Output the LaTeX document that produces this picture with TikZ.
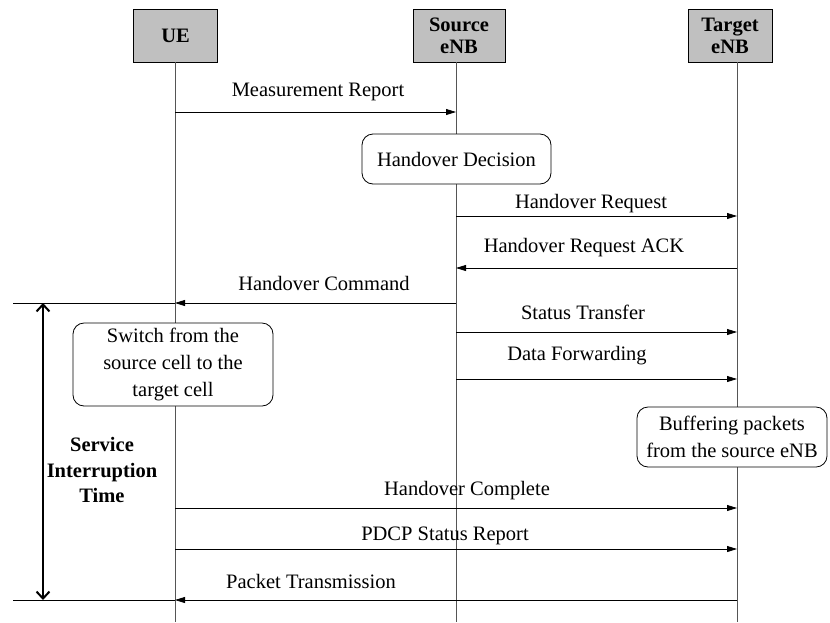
\documentclass[tikz,border=0pt]{standalone}
\usepackage{fontspec}
\setmainfont{Liberation Serif}
\usetikzlibrary{arrows.meta}
\definecolor{boxgray}{HTML}{C0C0C0}
\definecolor{linegray}{HTML}{555555}
\begin{document}
\begin{tikzpicture}[x=1pt,y=-1pt,
  every node/.style={font=\fontsize{20.5}{24}\selectfont},
  actor/.style={draw=black, fill=boxgray, line width=0.9pt, minimum width=84pt,
    minimum height=53pt, inner sep=0pt, align=center,
    font=\fontsize{20.5}{22}\selectfont\bfseries},
  life/.style={draw=linegray, line width=0.8pt},
  msg/.style={draw=black, line width=0.8pt, -{Triangle[length=10pt,width=6pt]}},
  lbl/.style={anchor=base, inner sep=0pt},
  note/.style={draw=black, rounded corners=11pt, fill=white, align=center,
    line width=0.8pt, inner sep=0pt, font=\fontsize{20.5}{27}\selectfont},
  span/.style={draw=black, line width=2pt,
    {Straight Barb[length=7pt,width=13pt,line width=2pt]}-{Straight Barb[length=7pt,width=13pt,line width=2pt]}}
]
\useasboundingbox (0,0) rectangle (830,622);

% participants
\node[actor] (ue)  at (175.5,35.5) {UE};
\node[actor, minimum width=92pt] (src) at (459,35.5) {Source\\eNB};
\node[actor] (tgt) at (730,35.5) {Target\\eNB};

% lifelines
\coordinate (ueT) at (175,62);   \coordinate (ueB) at (175,622);
\coordinate (srcT) at (456,62);  \coordinate (srcB) at (456,622);
\coordinate (tgtT) at (737,62);  \coordinate (tgtB) at (737,622);
\draw[life] (ueT) -- (ueB);
\draw[life] (srcT) -- (srcB);
\draw[life] (tgtT) -- (tgtB);

% notes
\node[note, minimum width=189pt, minimum height=50pt] (dec) at (456.5,159) {Handover Decision};
\node[note, minimum width=200pt, minimum height=83pt] (sw) at (173,364.5)
  {Switch from the\\source cell to the\\target cell};
\node[note, minimum width=190pt, minimum height=60pt] (buf) at (732,437)
  {Buffering packets\\from the source eNB};

% message rows
\coordinate (r1) at (0,112);
\coordinate (r2) at (0,216);
\coordinate (r3) at (0,268);
\coordinate (r4) at (0,303);
\coordinate (r5) at (0,332);
\coordinate (r6) at (0,379);
\coordinate (r7) at (0,508);
\coordinate (r8) at (0,549);
\coordinate (r9) at (0,600);

\draw[msg] (ueT |- r1) -- (srcT |- r1);
\draw[msg] (srcT |- r2) -- (tgtT |- r2);
\draw[msg] (tgtT |- r3) -- (srcT |- r3);
\draw[msg] (srcT |- r4) -- (ueT |- r4);
\draw[msg] (srcT |- r5) -- (tgtT |- r5);
\draw[msg] (srcT |- r6) -- (tgtT |- r6);
\draw[msg] (ueT |- r7) -- (tgtT |- r7);
\draw[msg] (ueT |- r8) -- (tgtT |- r8);
\draw[msg] (tgtT |- r9) -- (ueT |- r9);

% message labels
\node[lbl] (l1) at (318,96)  {Measurement Report};
\node[lbl] (l2) at (591,208) {Handover Request};
\node[lbl] (l3) at (584,252) {Handover Request ACK};
\node[lbl] (l4) at (324,290) {Handover Command};
\node[lbl] (l5) at (583,319) {Status Transfer};
\node[lbl] (l6) at (577,360) {Data Forwarding};
\node[lbl] (l7) at (467,495) {Handover Complete};
\node[lbl] (l8) at (445,540) {PDCP Status Report};
\node[lbl] (l9) at (311,588) {Packet Transmission};

% service interruption interval
\coordinate (s0) at (13,303);
\coordinate (s1) at (13,600);
\draw[black, line width=0.9pt] (s0) -- (ueT |- s0);
\draw[black, line width=0.9pt] (s1) -- (ueT |- s1);
\coordinate (a0) at (43,303);
\coordinate (a1) at (43,600);
\draw[span] (a0) -- (a1);
\node[align=center, font=\fontsize{20.5}{25.5}\selectfont\bfseries] (sit) at (102,470)
  {Service\\Interruption\\Time};
\end{tikzpicture}
\end{document}
